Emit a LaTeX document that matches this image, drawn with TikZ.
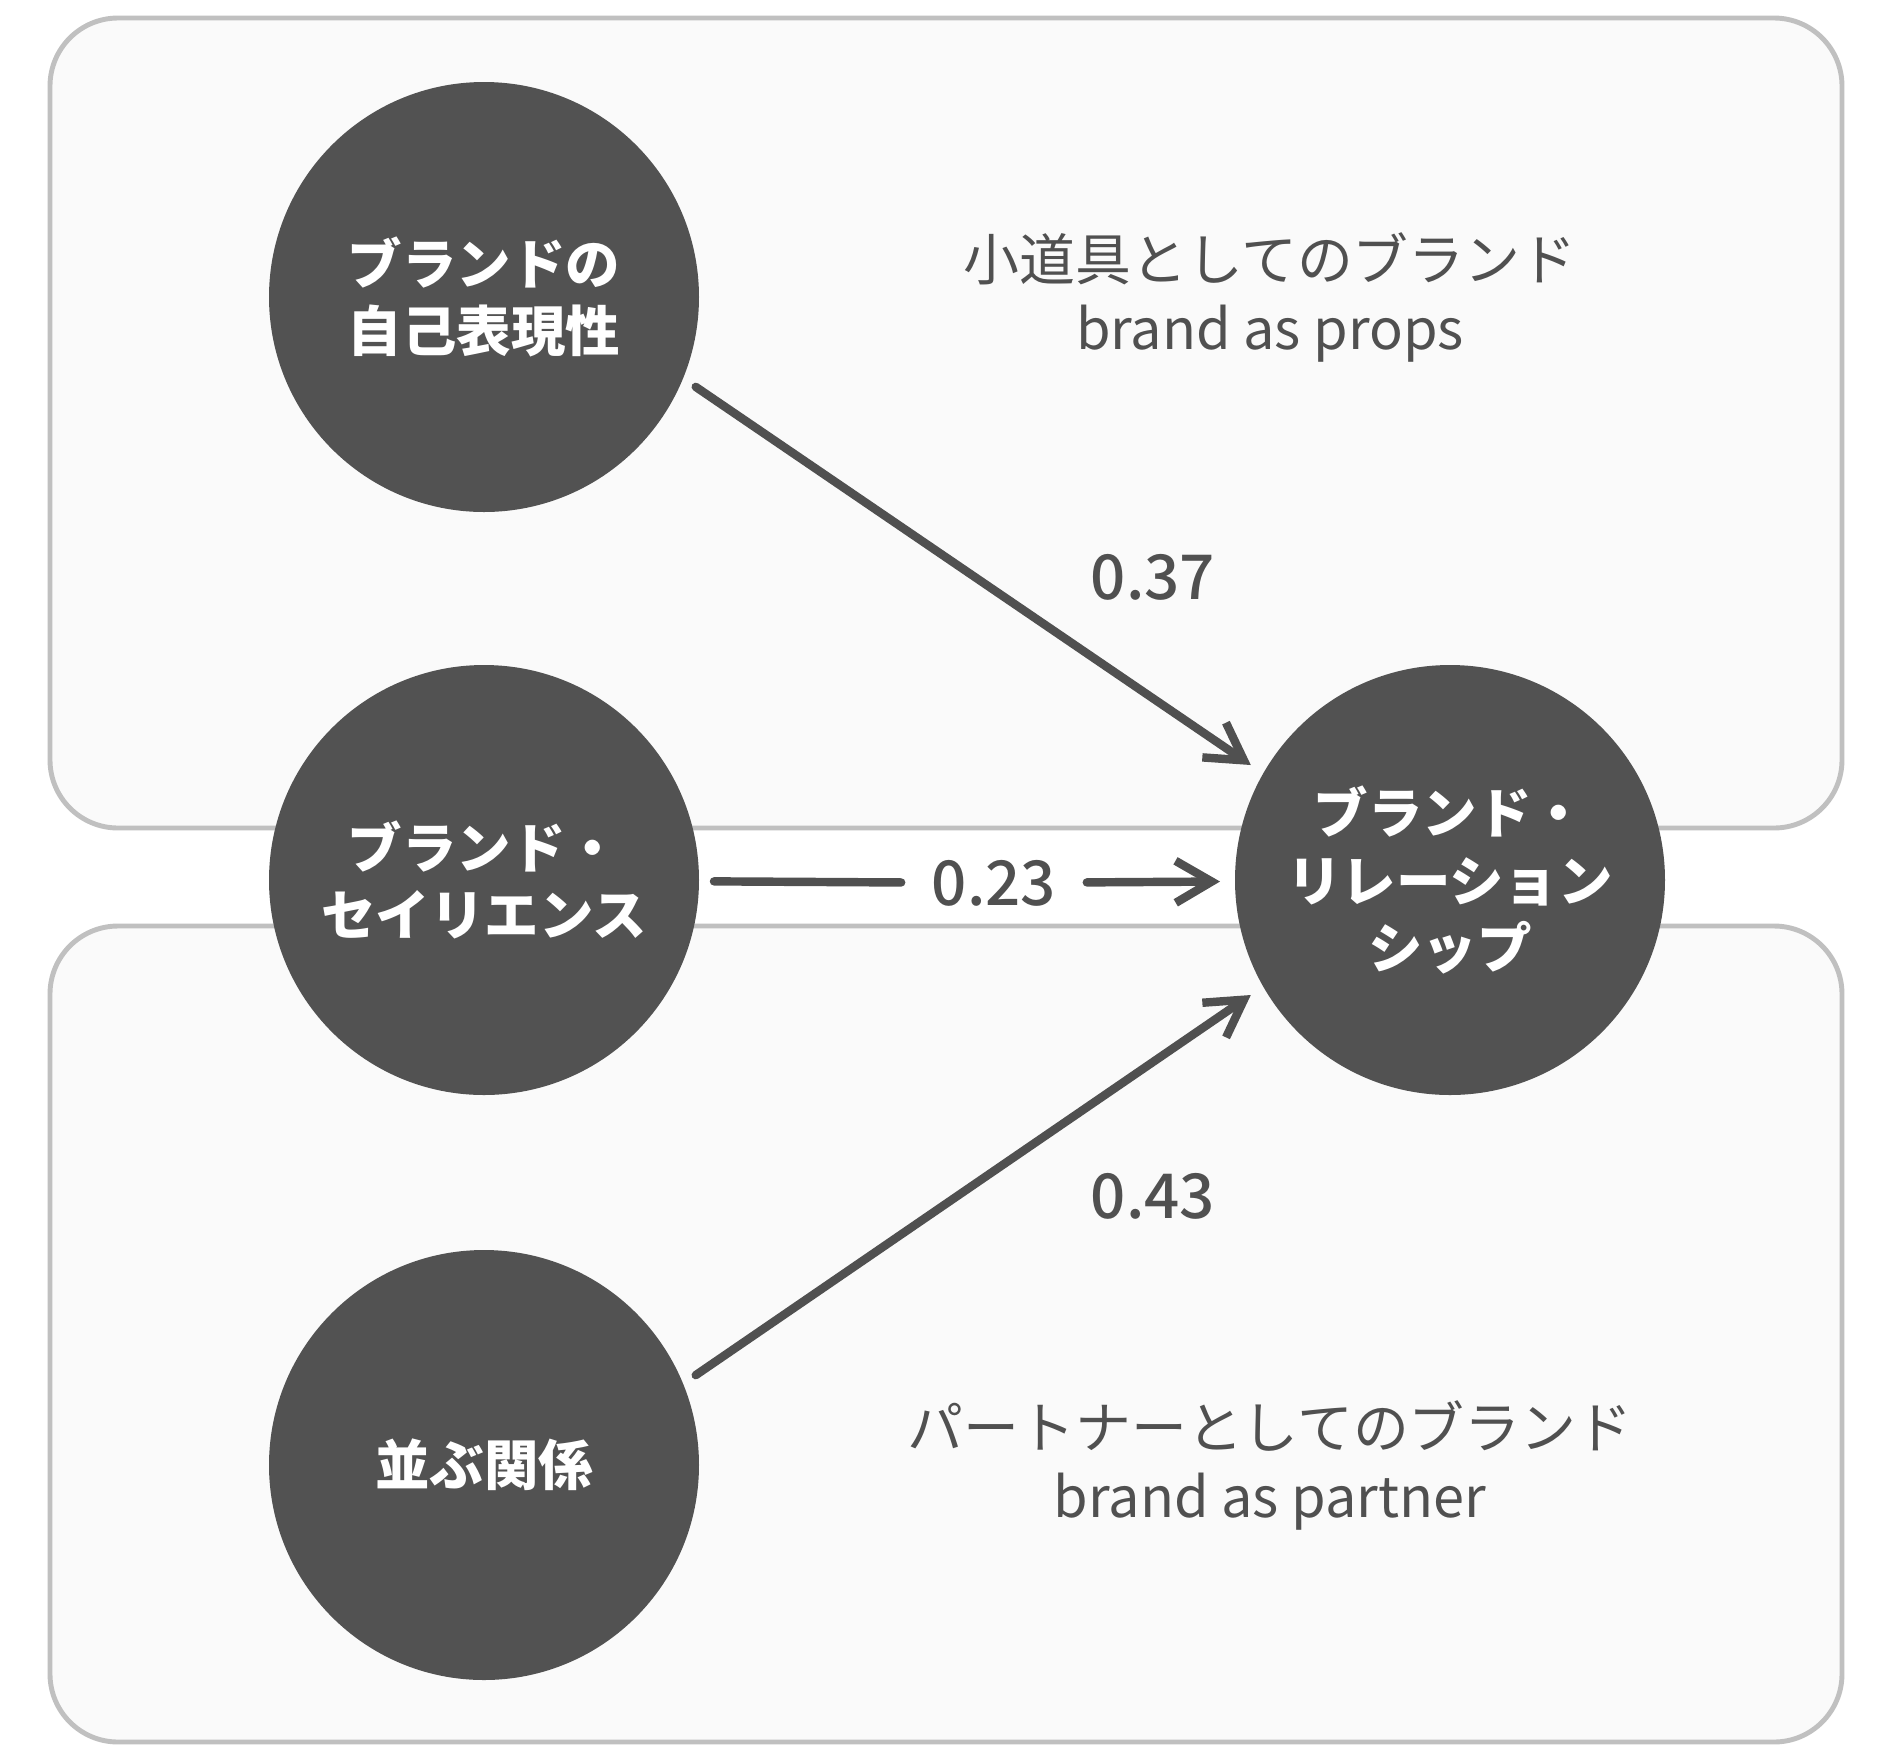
\documentclass[tikz,border=0pt]{standalone}
\usepackage{fontspec}
\newfontfamily\jpfont{Noto Sans CJK JP}
\newfontfamily\jpmid{Noto Sans CJK JP Medium}
\usetikzlibrary{arrows.meta}
\definecolor{disc}{HTML}{525252}
\definecolor{ink}{HTML}{505050}
\definecolor{frame}{HTML}{C0C0C0}
\definecolor{panel}{HTML}{FAFAFA}

\begin{document}
\begin{tikzpicture}[
    factor/.style={circle, fill=disc, minimum size=4.3cm, inner sep=0pt, outer sep=0.15cm,
      text=white, align=center, font=\jpfont\bfseries\fontsize{15.5}{19.3}\selectfont},
    group/.style={draw=frame, fill=panel, line width=1.4pt, rounded corners=0.68cm},
    caption/.style={text=ink, align=center, font=\jpfont\fontsize{15.9}{19.6}\selectfont},
    coef/.style={text=ink, font=\jpmid\fontsize{17.6}{20}\selectfont},
    link/.style={draw=ink, line width=2.4pt, line cap=round, line join=round},
    >={Straight Barb[length=3.6mm, width=4.2mm]}
  ]
  \fill[white] (0,0) rectangle (18.9,-17.6);
  \useasboundingbox (0,0) rectangle (18.9,-17.6);
  % the two groups
  \draw[group] (0.50,-0.18) rectangle (18.42,-8.28);
  \draw[group] (0.50,-9.26) rectangle (18.42,-17.42);

  \node (self) [factor] at (4.84,-2.97) {ブランドの\\自己表現性};
  \node (sal) [factor, below of=self, node distance=5.83cm] {ブランド・\\セイリエンス};
  \node (pair) [factor, below of=sal, node distance=5.85cm] {並ぶ関係};
  \node (rel) [factor, right of=sal, node distance=9.66cm] {ブランド・\\リレーション\\シップ};

  \node (props) [caption, right of=self, node distance=7.86cm] {小道具としてのブランド\\brand as props};
  \node (partner) [caption, right of=pair, node distance=7.86cm] {パートナーとしてのブランド\\brand as partner};

  \node (c37) [coef] at (11.53,-5.77) {0.37};
  \node (c23) [coef, outer sep=1.9mm] at (9.94,-8.83) {0.23};
  \node (c43) [coef] at (11.53,-11.96) {0.43};

  \draw[link, ->] (self.-23) -- (rel.150);
  \draw[link] (sal) -- (c23);
  \draw[link, ->] (c23) -- (rel);
  \draw[link, ->] (pair.23) -- (rel.210);
\end{tikzpicture}
\end{document}
